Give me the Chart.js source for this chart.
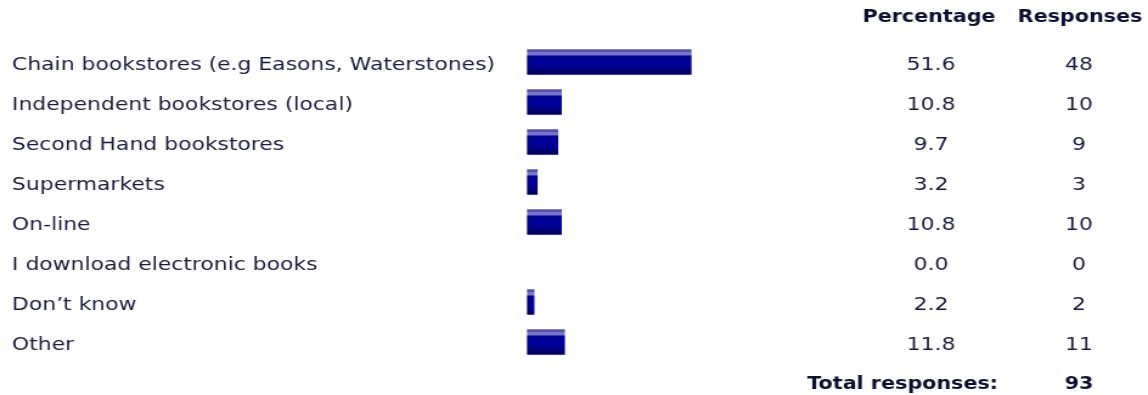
<!DOCTYPE html>
<html>
<head>
<meta charset="utf-8">
<script src="https://cdn.jsdelivr.net/npm/chart.js@4/dist/chart.umd.min.js"></script>
<style>
  html, body { margin: 0; padding: 0; background: #ffffff; }
  #c { display: block; }
</style>
</head>
<body>
<canvas id="c" width="944" height="395" style="width:1148px;height:395px"></canvas>
<script>
const categories = [
  "Chain bookstores (e.g Easons, Waterstones)",
  "Independent bookstores (local)",
  "Second Hand bookstores",
  "Supermarkets",
  "On-line",
  "I download electronic books",
  "Don\u2019t know",
  "Other"
];
const percentages = [51.6, 10.8, 9.7, 3.2, 10.8, 0.0, 2.2, 11.8];
const responses = [48, 10, 9, 3, 10, 0, 2, 11];
const columnHeaders = ["Percentage", "Responses"];
const totalLabel = "Total responses:";
const totalResponses = 93;

const W = 944;              // canvas drawing width (stretched to 1148 css px)
const SX = 1148 / W;        // horizontal stretch
const cx = v => v / SX;     // css x -> canvas x

const TEXT = "#1b1b3d";
const HEAD = "#0f0f33";
const BAR_H = 25;
const BODY_FONT = "18px 'DejaVu Sans'";
const HEAD_FONT = "bold 17px 'DejaVu Sans'";

function barGradient(context) {
  const chart = context.chart;
  const ys = chart.scales && chart.scales.y;
  if (!ys || context.dataIndex === undefined) return "#000099";
  if (!percentages[context.dataIndex]) return "rgba(0,0,0,0)";
  const yc = ys.getPixelForValue(context.dataIndex);
  if (!isFinite(yc)) return "#000099";
  const top = yc - BAR_H / 2, bot = yc + BAR_H / 2;
  const g = chart.ctx.createLinearGradient(0, top, 0, bot);
  const f = p => p / BAR_H;
  g.addColorStop(0, "#5050b8");
  g.addColorStop(f(2), "#5050b8");
  g.addColorStop(f(2.01), "#7474c8");
  g.addColorStop(f(5), "#7474c8");
  g.addColorStop(f(6.5), "#1a1aa0");
  g.addColorStop(f(7), "#000099");
  g.addColorStop(f(17), "#000099");
  g.addColorStop(f(18.5), "#000078");
  g.addColorStop(1, "#00005a");
  return g;
}

const columnsPlugin = {
  id: "columns",
  afterDraw(chart) {
    const ctx = chart.ctx;
    const ys = chart.scales.y;
    const pctX = cx(931), respX = cx(1079);
    ctx.save();
    ctx.textAlign = "center";
    ctx.textBaseline = "alphabetic";
    ctx.font = HEAD_FONT;
    ctx.fillStyle = HEAD;
    ctx.fillText(columnHeaders[0], cx(929), 22);
    ctx.fillText(columnHeaders[1], cx(1080), 22);
    ctx.font = BODY_FONT;
    ctx.fillStyle = TEXT;
    categories.forEach((c, i) => {
      const y = ys.getPixelForValue(i);
      ctx.fillText(percentages[i].toFixed(1), pctX, y + 7.5);
      ctx.fillText(String(responses[i]), respX, y + 7.5);
    });
    ctx.font = HEAD_FONT;
    ctx.fillStyle = HEAD;
    ctx.textAlign = "right";
    ctx.fillText(totalLabel, cx(998), 389);
    ctx.textAlign = "center";
    ctx.fillText(String(totalResponses), respX, 389);
    ctx.restore();
  }
};

new Chart(document.getElementById("c"), {
  type: "bar",
  data: {
    labels: categories,
    datasets: [{
      data: percentages,
      backgroundColor: barGradient,
      borderWidth: 0,
      barThickness: BAR_H
    }]
  },
  options: {
    indexAxis: "y",
    responsive: false,
    animation: false,
    devicePixelRatio: 1,
    layout: { padding: { left: cx(12), top: 42, bottom: 33, right: W - cx(527 + 318) } },
    plugins: { legend: { display: false }, tooltip: { enabled: false } },
    scales: {
      x: { display: false, min: 0, max: 100 },
      y: {
        grid: { display: false },
        border: { display: false },
        afterFit(scale) { scale.width = cx(527) - cx(12); },
        ticks: {
          crossAlign: "far",
          padding: 0,
          labelOffset: 3.5,
          color: TEXT,
          font: { family: "'DejaVu Sans'", size: 18 }
        }
      }
    }
  },
  plugins: [columnsPlugin]
});
</script>
</body>
</html>
